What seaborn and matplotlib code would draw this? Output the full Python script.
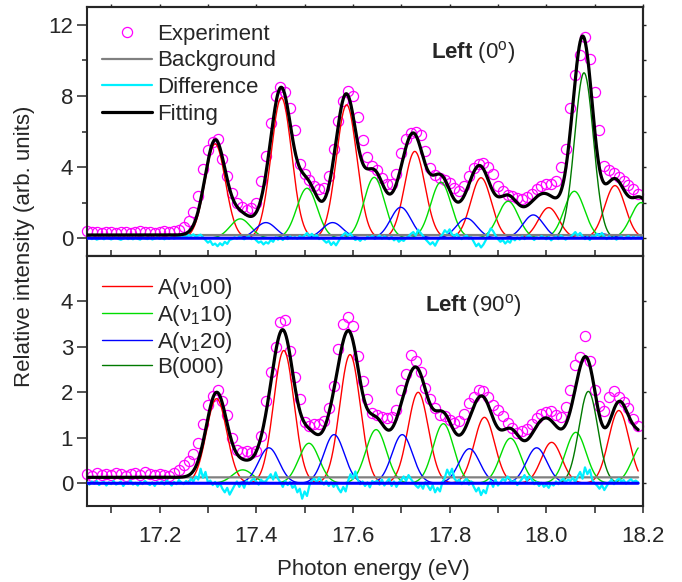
import numpy as np
import pandas as pd
import matplotlib
matplotlib.use("Agg")
import matplotlib.pyplot as plt
from matplotlib.ticker import MultipleLocator, FixedLocator, FormatStrFormatter
from matplotlib.lines import Line2D
import seaborn as sns

# ---------------- measured spectra ----------------
# experimental points, 0.01 eV sampling from 17.05 eV to 18.19 eV
exp_top = [0.38, 0.33, 0.36, 0.31, 0.35, 0.37, 0.32, 0.36, 0.34, 0.30,
           0.35, 0.38, 0.33, 0.36, 0.31, 0.35, 0.39, 0.34, 0.38, 0.45,
           0.62, 0.95, 1.50, 2.40, 3.90, 4.95, 5.40, 5.60, 4.45, 3.50,
           2.55, 2.00, 1.75, 1.60, 1.72, 1.97, 3.20, 4.60, 6.50, 8.00,
           8.50, 8.20, 7.30, 6.10, 4.20, 3.60, 3.30, 2.95, 2.75, 2.85,
           3.50, 5.00, 6.60, 7.70, 8.30, 8.00, 6.84, 5.50, 4.55, 4.05,
           3.85, 3.40, 3.05, 3.05, 3.60, 4.80, 5.60, 5.90, 6.00, 5.80,
           4.90, 3.95, 3.55, 3.40, 3.25, 3.10, 2.85, 2.65, 2.95, 3.50,
           3.95, 4.20, 4.25, 4.00, 3.60, 2.95, 2.65, 2.45, 2.35, 2.25,
           2.20, 2.30, 2.50, 2.75, 2.95, 3.05, 3.05, 3.20, 4.00, 5.00,
           7.30, 9.20, 10.30, 11.30, 10.10, 8.20, 6.10, 4.05, 3.85, 3.65,
           3.45, 3.20, 3.00, 2.75, 2.50]

exp_bottom = [0.20, 0.17, 0.22, 0.19, 0.21, 0.18, 0.23, 0.20, 0.17, 0.21,
              0.22, 0.19, 0.24, 0.20, 0.18, 0.21, 0.19, 0.17, 0.22, 0.30,
              0.40, 0.50, 0.65, 0.88, 1.30, 1.72, 1.92, 2.05, 1.82, 1.50,
              1.00, 0.74, 0.68, 0.70, 0.66, 0.72, 1.05, 1.80, 2.45, 3.00,
              3.55, 3.60, 2.90, 2.33, 1.85, 1.35, 1.27, 1.30, 1.30, 1.38,
              1.65, 2.15, 2.95, 3.50, 3.65, 3.45, 2.80, 2.25, 1.85, 1.55,
              1.50, 1.45, 1.43, 1.45, 1.62, 2.05, 2.40, 2.82, 2.70, 2.45,
              2.10, 1.85, 1.65, 1.50, 1.47, 1.40, 1.33, 1.36, 1.52, 1.76,
              1.90, 2.06, 2.02, 1.90, 1.72, 1.62, 1.47, 1.33, 1.22, 1.10,
              1.14, 1.20, 1.30, 1.43, 1.52, 1.56, 1.60, 1.50, 1.45, 1.67,
              2.05, 2.60, 2.78, 3.25, 2.70, 2.05, 1.70, 1.60, 1.90, 2.04,
              1.90, 1.78, 1.65, 1.42, 1.25]

# residuals (experiment - fit), 0.005 eV sampling
diff_top = [-0.02, 0.03, -0.05, 0.01, -0.08, -0.03, 0.02, -0.06, 0.04, -0.01,
            -0.07, 0.00, 0.05, -0.04, -0.09, -0.02, 0.03, -0.05, 0.01, -0.06,
            0.02, -0.03, -0.08, 0.04, -0.01, -0.05, 0.03, -0.07, -0.02, 0.05,
            -0.04, 0.01, -0.06, 0.02, -0.03, 0.06, -0.02, 0.04, 0.08, 0.02,
            0.10, 0.05, 0.18, 0.12, 0.22, 0.08, 0.15, 0.20, 0.05, -0.10,
            -0.25, -0.15, -0.38, -0.30, -0.45, -0.28, -0.40, -0.20, -0.32, -0.10,
            -0.05, 0.05, -0.02, 0.08, 0.02, -0.06, 0.04, 0.10, -0.05, 0.03,
            -0.12, -0.25, -0.18, -0.35, -0.22, -0.30, -0.10, -0.20, 0.05, -0.08,
            0.02, -0.10, 0.08, -0.05, 0.10, 0.00, 0.06, -0.03, 0.12, 0.04,
            0.15, 0.30, 0.10, 0.25, 0.05, 0.18, -0.05, 0.02, -0.12, -0.25,
            -0.15, -0.38, -0.22, -0.40, -0.18, 0.05, 0.20, 0.32, 0.15, 0.28,
            0.05, -0.10, -0.02, -0.15, 0.00, -0.08, 0.08, 0.02, 0.12, -0.04,
            0.05, 0.15, -0.02, 0.10, 0.04, -0.05, 0.08, -0.12, 0.00, -0.20,
            -0.08, -0.15, 0.02, 0.10, 0.25, 0.35, 0.15, 0.48, 0.30, 0.12,
            -0.05, -0.20, -0.35, -0.22, -0.42, -0.15, 0.05, 0.20, 0.45, 0.30,
            0.50, 0.22, 0.10, 0.25, 0.05, -0.05, 0.08, 0.15, -0.02, 0.05,
            -0.20, -0.45, -0.30, -0.52, -0.35, -0.10, 0.25, 0.55, 0.40, 0.15,
            -0.05, -0.20, -0.10, -0.30, -0.15, -0.25, 0.02, -0.12, 0.05, -0.08,
            0.10, -0.05, 0.08, 0.15, 0.02, -0.10, 0.05, -0.02, 0.12, 0.04,
            -0.06, 0.08, -0.12, 0.02, 0.10, -0.05, 0.15, 0.05, -0.08, 0.03,
            0.05, 0.20, 0.35, 0.15, 0.30, 0.10, -0.05, 0.08, -0.10, 0.12,
            0.05, 0.25, 0.15, 0.30, 0.08, -0.05, 0.10, -0.02, 0.06, -0.08,
            0.02, 0.10, -0.04, 0.05, 0.12, -0.02, 0.08, 0.00, 0.06, 0.03, 0.05]

diff_bottom = [0.02, -0.03, 0.04, -0.01, 0.05, -0.04, 0.01, 0.03, -0.05, 0.02,
               -0.02, 0.05, -0.03, 0.00, 0.04, -0.06, 0.02, -0.01, 0.06, -0.03,
               0.01, -0.05, 0.03, -0.02, 0.05, 0.00, -0.04, 0.02, -0.06, 0.03,
               -0.01, 0.04, -0.03, 0.06, 0.01, -0.05, 0.03, -0.02, 0.07, 0.02,
               -0.02, 0.05, 0.00, 0.10, 0.04, 0.15, 0.08, 0.32, 0.12, 0.25,
               0.02, 0.06, -0.04, 0.03, -0.08, 0.00, -0.12, -0.20, -0.10, -0.25,
               -0.15, -0.05, 0.04, -0.08, 0.02, -0.10, 0.05, -0.02, 0.06, 0.10,
               0.04, -0.03, 0.08, 0.02, 0.05, 0.12, 0.20, 0.08, 0.24, 0.10,
               0.02, -0.08, 0.05, -0.04, 0.03, -0.10, -0.05, -0.20, -0.12, -0.34,
               -0.18, -0.28, -0.05, 0.06, 0.10, 0.02, 0.12, 0.04, -0.03, 0.05,
               -0.06, 0.02, -0.08, 0.00, -0.12, -0.20, -0.08, -0.18, 0.05, 0.20,
               0.10, 0.26, 0.08, -0.02, 0.04, -0.06, 0.02, -0.09, 0.05, 0.00,
               0.06, -0.03, 0.08, -0.05, 0.03, 0.10, -0.06, 0.04, -0.08, 0.02,
               0.07, 0.15, 0.05, 0.18, 0.09, 0.02, -0.05, -0.10, -0.02, -0.12,
               0.03, -0.06, -0.15, -0.04, -0.20, -0.10, -0.18, 0.02, 0.12, 0.30,
               0.18, 0.32, 0.10, 0.04, 0.08, -0.02, 0.05, 0.10, -0.03, 0.04,
               -0.08, -0.18, -0.10, -0.26, -0.15, -0.22, -0.02, 0.05, -0.08, 0.08,
               -0.05, 0.02, 0.10, 0.05, 0.15, 0.08, 0.02, 0.06, -0.04, 0.03,
               0.10, 0.18, 0.05, 0.15, 0.08, -0.02, 0.03, -0.06, 0.01, -0.08,
               -0.03, -0.10, 0.00, -0.05, 0.04, -0.02, 0.06, 0.10, 0.03, 0.08,
               0.05, 0.12, 0.02, 0.15, 0.25, 0.10, 0.35, 0.20, 0.30, 0.08,
               0.00, -0.05, -0.12, -0.04, -0.15, -0.06, 0.02, 0.08, -0.02, 0.06,
               0.10, 0.04, 0.07, -0.01, 0.05, 0.09, 0.03, 0.06, 0.02]

# ---------------- fitted Gaussian components ----------------
# top panel: Left (0 deg)
top_nu00_pos = [17.315, 17.452, 17.587, 17.728, 17.865, 18.005, 18.142]
top_nu00_amp = [5.30, 7.90, 7.50, 4.88, 3.40, 1.72, 2.96]
top_nu10_pos = [17.367, 17.505, 17.644, 17.782, 17.921, 18.058, 18.196]
top_nu10_amp = [1.09, 2.81, 3.42, 3.15, 2.08, 2.64, 2.00]
top_nu20_pos = [17.420, 17.558, 17.699, 17.835, 17.973, 18.112]
top_nu20_amp = [0.88, 0.88, 1.74, 1.12, 1.31, 0.25]
top_b000_pos = [18.078]
top_b000_amp = [9.30]
top_background = 0.18

# bottom panel: Left (90 deg)
bot_nu00_pos = [17.318, 17.457, 17.594, 17.735, 17.872, 18.011, 18.150]
bot_nu00_amp = [1.86, 2.92, 2.83, 2.00, 1.45, 0.90, 1.60]
bot_nu10_pos = [17.372, 17.509, 17.648, 17.787, 17.926, 18.061, 18.199]
bot_nu10_amp = [0.295, 0.88, 1.18, 1.31, 0.99, 1.12, 0.85]
bot_nu20_pos = [17.426, 17.561, 17.702, 17.841, 17.980]
bot_nu20_amp = [0.78, 1.07, 1.07, 0.76, 0.78]
bot_b000_pos = [18.087]
bot_b000_amp = [2.02]
bot_background = 0.13

sigma_a = 0.0212   # Gaussian width of the A-state bands (eV)
sigma_b = 0.0195   # Gaussian width of the B(000) band (eV)

panel_titles = [r"$\mathbf{Left}$ (0$^{\mathrm{o}}$)", r"$\mathbf{Left}$ (90$^{\mathrm{o}}$)"]
comp_labels = [r"A($\nu_1$00)", r"A($\nu_1$10)", r"A($\nu_1$20)", "B(000)"]
comp_colors = ["#ff0000", "#00dd00", "#0000ff", "#007a00"]
top_legend_labels = ["Experiment", "Background", "Difference", "Fitting"]
top_yticks = [0, 4, 8, 12]
bot_yticks = [0, 1, 2, 3, 4]
x_ticks = [17.2, 17.4, 17.6, 17.8, 18.0, 18.2]

# ---------------- style ----------------
sns.set_style("ticks")
plt.rcParams["font.family"] = ["Liberation Sans", "DejaVu Sans"]
plt.rcParams["mathtext.fontset"] = "custom"
plt.rcParams["mathtext.rm"] = "Liberation Sans"
plt.rcParams["mathtext.it"] = "Liberation Sans:italic"
plt.rcParams["mathtext.bf"] = "Liberation Sans:bold"
plt.rcParams["mathtext.default"] = "regular"
plt.rcParams["axes.linewidth"] = 1.5

FS = 16


def gauss(x, c, a, s):
    return a * np.exp(-(x - c) ** 2 / (2.0 * s ** 2))


def draw_panel(ax, x_end, comps, background, exp_vals, diff_vals):
    xg = np.linspace(17.05, x_end, int(round((x_end - 17.05) / 0.001)) + 1)
    e_exp = 17.05 + 0.01 * np.arange(len(exp_vals))
    e_diff = 17.05 + 0.005 * np.arange(len(diff_vals))

    # experimental points
    sns.lineplot(x=e_exp, y=exp_vals, ax=ax, estimator=None, sort=False,
                 linestyle="none", marker="o", markersize=7.3,
                 markerfacecolor="none", markeredgecolor="#ff00ff",
                 markeredgewidth=0.9, clip_on=False, zorder=2)

    # individual bands
    total = np.full_like(xg, background)
    for (pos, amp, sig), col in zip(comps, comp_colors):
        for c, a in zip(pos, amp):
            y = gauss(xg, c, a, sig)
            total = total + y
            sns.lineplot(x=xg, y=y, ax=ax, estimator=None, sort=False,
                         color=col, linewidth=1.0, zorder=3)

    # background, residual, zero line and total fit
    sns.lineplot(x=xg, y=np.full_like(xg, background), ax=ax, estimator=None,
                 sort=False, color="#808080", linewidth=1.6, zorder=3)
    sns.lineplot(x=e_diff, y=diff_vals, ax=ax, estimator=None, sort=False,
                 color="#00f0ff", linewidth=1.6, zorder=3.5)
    sns.lineplot(x=xg, y=np.zeros_like(xg), ax=ax, estimator=None, sort=False,
                 color="#0000ff", linewidth=2.2, zorder=4)
    sns.lineplot(x=xg, y=total, ax=ax, estimator=None, sort=False,
                 color="black", linewidth=2.3, zorder=5)


fig = plt.figure(figsize=(6.82, 5.82), dpi=100)
ax1 = fig.add_axes([0.1276, 0.5601, 0.8152, 0.4279])
ax2 = fig.add_axes([0.1276, 0.1306, 0.8152, 0.4296])

top_comps = [(top_nu00_pos, top_nu00_amp, sigma_a), (top_nu10_pos, top_nu10_amp, sigma_a),
             (top_nu20_pos, top_nu20_amp, sigma_a), (top_b000_pos, top_b000_amp, sigma_b)]
bot_comps = [(bot_nu00_pos, bot_nu00_amp, sigma_a), (bot_nu10_pos, bot_nu10_amp, sigma_a),
             (bot_nu20_pos, bot_nu20_amp, sigma_a), (bot_b000_pos, bot_b000_amp, sigma_b)]

draw_panel(ax1, 18.2, top_comps, top_background, exp_top, diff_top)
draw_panel(ax2, 18.19, bot_comps, bot_background, exp_bottom, diff_bottom)

for ax in (ax1, ax2):
    ax.set_xlim(17.05, 18.2)
    ax.set_xlabel("")
    ax.set_ylabel("")
    for sp in ax.spines.values():
        sp.set_linewidth(1.5)
        sp.set_visible(True)

ax1.set_ylim(-1.0, 13.0)
ax2.set_ylim(-0.5, 5.0)

# y axes (left)
ax1.yaxis.set_major_locator(FixedLocator(top_yticks))
ax1.yaxis.set_minor_locator(FixedLocator([2, 6, 10]))
ax2.yaxis.set_major_locator(FixedLocator(bot_yticks))
for ax in (ax1, ax2):
    ax.tick_params(axis="y", which="major", direction="out", length=7, width=1.1,
                   labelsize=FS, pad=3, right=False, left=True)
    ax.tick_params(axis="y", which="minor", direction="out", length=3.5, width=1.1,
                   right=False, left=True)

# x axes
ax1.tick_params(axis="x", which="both", bottom=False, top=False, labelbottom=False)
ax2.xaxis.set_major_locator(FixedLocator(x_ticks))
ax2.xaxis.set_minor_locator(MultipleLocator(0.1))
ax2.xaxis.set_major_formatter(FormatStrFormatter("%.1f"))
ax2.tick_params(axis="x", which="both", direction="out", length=5.3, width=1.1,
                labelsize=FS, pad=9, top=False, bottom=True)

# ticks on the opposite sides
t1 = ax1.secondary_xaxis("top")
t1.xaxis.set_major_locator(MultipleLocator(0.1))
t1.tick_params(axis="x", direction="out", length=2.2, width=1.0, labeltop=False)
t1.spines["top"].set_linewidth(1.5)
t2 = ax2.secondary_xaxis("top")
t2.xaxis.set_major_locator(MultipleLocator(0.1))
t2.tick_params(axis="x", direction="out", length=4.5, width=1.1, labeltop=False)
t2.spines["top"].set_linewidth(1.5)
r1 = ax1.secondary_yaxis("right")
r1.yaxis.set_major_locator(MultipleLocator(2))
r1.tick_params(axis="y", direction="out", length=2.2, width=1.0, labelright=False)
r1.spines["right"].set_linewidth(1.5)
r2 = ax2.secondary_yaxis("right")
r2.yaxis.set_major_locator(FixedLocator(bot_yticks))
r2.tick_params(axis="y", direction="out", length=2.2, width=1.0, labelright=False)
r2.spines["right"].set_linewidth(1.5)

# legends
top_handles = [
    Line2D([], [], linestyle="none", marker="o", markersize=7.3, markerfacecolor="none",
           markeredgecolor="#ff00ff", markeredgewidth=0.9),
    Line2D([], [], color="#808080", linewidth=1.6),
    Line2D([], [], color="#00f0ff", linewidth=1.6),
    Line2D([], [], color="black", linewidth=2.3),
]
ax1.legend(top_handles, top_legend_labels, loc="upper left", bbox_to_anchor=(0.027, 0.932),
           frameon=False, fontsize=FS, handlelength=2.25, handletextpad=0.22,
           labelspacing=0.25, borderpad=0, borderaxespad=0)

bot_handles = [Line2D([], [], color=c, linewidth=1.0) for c in comp_colors]
ax2.legend(bot_handles, comp_labels, loc="upper left", bbox_to_anchor=(0.027, 0.919),
           frameon=False, fontsize=FS, handlelength=2.25, handletextpad=0.22,
           labelspacing=0.08, borderpad=0, borderaxespad=0)

# panel annotations
ax1.text(0.618, 0.795, panel_titles[0], transform=ax1.transAxes, fontsize=FS,
         ha="left", va="baseline")
ax2.text(0.608, 0.78, panel_titles[1], transform=ax2.transAxes, fontsize=FS,
         ha="left", va="baseline")

# axis titles
fig.text(0.036, 0.577, "Relative intensity (arb. units)", rotation=90,
         ha="center", va="center", fontsize=FS)
fig.text(0.548, 0.012, "Photon energy (eV)", ha="center", va="baseline", fontsize=FS)

fig.savefig("out.png", dpi=100)
